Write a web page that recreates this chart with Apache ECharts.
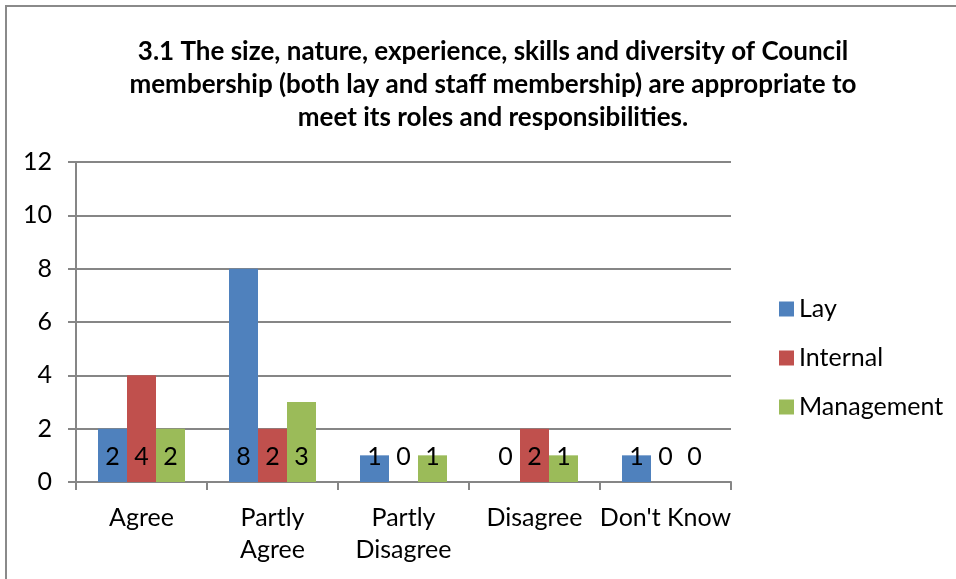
<!DOCTYPE html>
<html>
<head>
<meta charset="utf-8">
<script src="https://cdn.jsdelivr.net/npm/echarts@6/dist/echarts.min.js"></script>
<style>
  html, body { margin: 0; padding: 0; background: #fff; }
  #chart { width: 956px; height: 579px; }
</style>
</head>
<body>
<div id="chart"></div>
<script>
// answers for question 3.1
var categories = ["Agree", "Partly\nAgree", "Partly\nDisagree", "Disagree", "Don't Know"];
var lay = [2, 8, 1, 0, 1];
var internal = [4, 2, 0, 2, 0];
var management = [2, 3, 1, 1, 0];
var yTicks = { min: 0, max: 12, interval: 2 };

var font = "Lato, 'Open Sans', sans-serif";
var axisGrey = "#868686";

function barSeries(name, data, color) {
  return {
    name: name,
    type: "bar",
    data: data,
    barWidth: 29,
    barGap: "0%",
    itemStyle: { color: color },
    label: {
      show: true,
      position: "insideBottom",
      distance: 13,
      color: "#000",
      fontSize: 25,
      fontFamily: font
    }
  };
}

var myChart = echarts.init(document.getElementById("chart"));
var option = {
  animation: false,
  backgroundColor: "#fff",
  textStyle: { fontFamily: font },
  title: {
    text: "3.1 The size, nature, experience, skills and diversity of Council\nmembership (both lay and staff membership) are appropriate to\nmeet its roles and responsibilities.",
    left: 488,
    top: 30,
    textAlign: "center",
    textStyle: {
      fontFamily: font,
      fontWeight: "bold",
      fontSize: 26,
      lineHeight: 33,
      color: "#000"
    }
  },
  legend: {
    orient: "vertical",
    left: 774,
    top: 289,
    itemWidth: 15,
    itemHeight: 15,
    itemGap: 19,
    icon: "rect",
    textStyle: { fontSize: 25, color: "#000", fontFamily: font, lineHeight: 30 },
    data: ["Lay", "Internal", "Management"]
  },
  grid: { left: 76, right: 225, top: 162, bottom: 97 },
  xAxis: {
    type: "category",
    data: categories,
    axisLine: { lineStyle: { color: axisGrey, width: 2 } },
    axisTick: { show: true, length: 8, lineStyle: { color: axisGrey, width: 2 } },
    axisLabel: {
      color: "#000",
      fontSize: 25,
      lineHeight: 32,
      margin: 20,
      interval: 0,
      fontFamily: font
    }
  },
  yAxis: {
    type: "value",
    min: yTicks.min,
    max: yTicks.max,
    interval: yTicks.interval,
    axisLine: { show: true, lineStyle: { color: axisGrey, width: 2 } },
    axisTick: { show: true, length: 8, lineStyle: { color: axisGrey, width: 2 } },
    splitLine: { lineStyle: { color: axisGrey, width: 2 } },
    axisLabel: { color: "#000", fontSize: 25, margin: 24, fontFamily: font }
  },
  graphic: [{
    type: "rect",
    shape: { x: 6, y: 6, width: 1200, height: 1200 },
    style: { fill: "none", stroke: "#8a8a8a", lineWidth: 2 },
    silent: true
  }],
  series: [
    barSeries("Lay", lay, "#4F81BD"),
    barSeries("Internal", internal, "#C0504D"),
    barSeries("Management", management, "#9BBB59")
  ]
};
myChart.setOption(option);
window.addEventListener("resize", function () { myChart.resize(); });
</script>
</body>
</html>
